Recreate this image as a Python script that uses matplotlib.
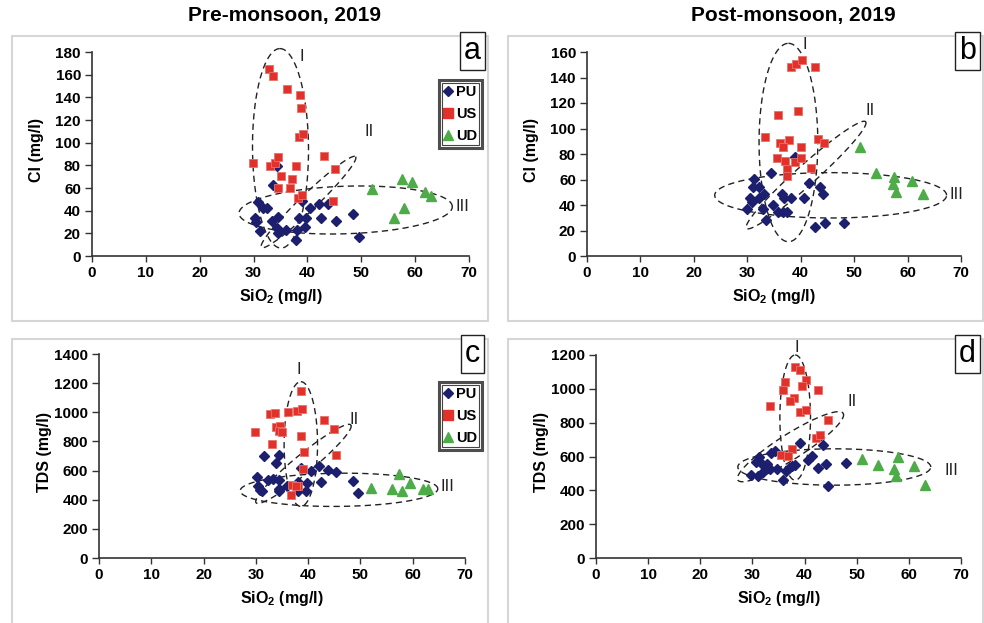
import numpy as np
import matplotlib
matplotlib.use('Agg')
import matplotlib.pyplot as plt
from matplotlib.lines import Line2D
from matplotlib.patches import Rectangle

plt.rcParams['font.family'] = ['Liberation Sans', 'DejaVu Sans']
plt.rcParams['font.weight'] = 'bold'
plt.rcParams['mathtext.fontset'] = 'custom'
plt.rcParams['mathtext.bf'] = 'Liberation Sans:bold'
plt.rcParams['mathtext.rm'] = 'Liberation Sans'

# ---- Cl vs SiO2, pre-monsoon (a)
a_pu_x = [34.4, 33.7, 30.9, 31.7, 32.5, 30.2, 30.4, 33.4, 34.5, 31.2, 34.3, 34.6, 36.1,
          37.9, 38.1, 38.4, 38.9, 39.7, 39.5, 40.5, 42.1, 42.5, 43.8, 45.3, 48.5, 49.6]
a_pu_y = [79.4, 62.4, 47.9, 42.6, 42.4, 33.8, 30.3, 31.2, 34.1, 22.4, 25.0, 20.0, 22.6,
          14.1, 22.9, 33.8, 48.5, 33.8, 25.3, 42.6, 45.6, 33.8, 45.6, 31.2, 36.8, 16.8]
a_us_x = [32.8, 33.6, 36.2, 38.6, 38.8, 38.5, 39.1, 29.9, 33.1, 33.9, 34.6, 35.1, 37.1,
          37.9, 34.5, 36.8, 38.3, 39.0, 43.0, 45.2, 44.8]
a_us_y = [164.7, 159.1, 147.6, 142.0, 130.6, 105.3, 107.6, 82.4, 79.7, 82.4, 87.6, 70.9, 68.2,
          79.4, 59.7, 59.7, 50.9, 53.8, 87.9, 76.8, 48.2]
a_ud_x = [52.0, 57.5, 59.5, 61.9, 62.9, 58.0, 56.0]
a_ud_y = [58.8, 67.6, 65.0, 56.2, 53.2, 42.1, 33.2]

# ---- Cl vs SiO2, post-monsoon (b)
b_pu_x = [39.0, 34.5, 31.2, 31.1, 32.1, 41.5, 43.6, 33.2, 36.5, 36.9, 38.1, 44.2, 30.5,
          30.8, 32.1, 40.7, 29.9, 32.9, 34.9, 35.7, 36.7, 37.5, 33.5, 42.6, 44.5, 48.1]
b_pu_y = [77.4, 65.4, 60.1, 54.4, 54.4, 57.0, 54.4, 48.4, 48.6, 45.8, 45.8, 48.4, 45.8,
          42.6, 45.2, 45.8, 36.9, 36.9, 40.0, 34.2, 34.2, 34.2, 28.2, 23.0, 25.6, 25.6]
b_us_x = [38.1, 39.2, 40.3, 42.6, 35.8, 39.5, 33.3, 36.2, 37.9, 36.7, 40.0, 43.3, 44.3,
          35.6, 37.0, 38.9, 40.0, 37.4, 37.5, 42.0]
b_us_y = [148.0, 150.6, 153.7, 148.0, 110.6, 113.7, 93.6, 88.4, 91.0, 85.2, 85.8, 91.5, 88.4,
          76.9, 74.2, 74.0, 76.9, 68.0, 62.7, 68.8]
b_ud_x = [51.1, 54.0, 57.5, 57.2, 57.9, 60.9, 62.9]
b_ud_y = [85.2, 64.8, 62.2, 56.5, 50.5, 59.1, 48.4]

# ---- TDS vs SiO2, pre-monsoon (c)
c_pu_x = [31.5, 34.4, 33.8, 38.7, 42.1, 40.5, 43.8, 45.3, 30.3, 32.4, 33.3, 34.4, 38.1,
          39.7, 42.4, 48.5, 30.4, 30.8, 31.2, 34.5, 34.5, 36.0, 38.1, 39.5, 49.6]
c_pu_y = [701, 706, 651, 621, 633, 594, 601, 589, 555, 537, 541, 537, 525,
          518, 521, 530, 491, 468, 457, 475, 457, 496, 457, 457, 445]
c_us_x = [38.6, 32.7, 33.6, 36.2, 37.9, 38.9, 43.0, 44.9, 33.8, 34.6, 34.5, 35.0, 29.8,
          38.6, 33.1, 39.2, 45.3, 39.1, 37.0, 38.1, 36.8, 37.6]
c_us_y = [1149, 989, 993, 1000, 1012, 1021, 948, 888, 902, 907, 875, 868, 868,
          840, 781, 726, 708, 610, 498, 496, 434, 495]
c_ud_x = [52.0, 57.4, 59.5, 56.1, 58.0, 62.0, 63.0]
c_ud_y = [477, 576, 514, 473, 461, 473, 473]

# ---- TDS vs SiO2, post-monsoon (d)
d_pu_x = [39.1, 43.6, 33.6, 34.4, 31.2, 41.5, 40.7, 30.6, 31.9, 32.7, 32.7, 33.3, 34.8,
          37.0, 37.5, 38.1, 36.5, 42.6, 44.2, 48.0, 29.8, 31.0, 32.0, 35.8, 44.5]
d_pu_y = [681, 669, 620, 630, 597, 603, 577, 568, 554, 558, 534, 528, 528,
          534, 542, 552, 513, 532, 554, 562, 489, 485, 509, 464, 425]
d_us_x = [38.1, 39.2, 36.3, 40.2, 39.5, 35.8, 42.6, 37.9, 37.2, 33.3, 39.1, 40.2, 44.4,
          42.1, 43.0, 37.5, 35.4, 36.8]
d_us_y = [1129, 1113, 1043, 1051, 1018, 994, 992, 945, 926, 900, 865, 877, 816,
          710, 726, 642, 607, 603]
d_ud_x = [51.1, 54.1, 57.9, 57.1, 57.5, 60.9, 63.1]
d_ud_y = [583, 552, 597, 528, 483, 544, 430]

# group outlines: centre, two conjugate half-axes (data units)
a_rings = [((35.0, 95.0), (-0.1, 88.0), (5.2, 0.0)),
           ((40.2, 47.6), (8.74, 40.0), (1.05, -5.3)),
           ((47.1, 40.6), (19.8, 2.9), (0.0, 21.0))]
b_rings = [((37.7, 89.0), (0.0, 77.8), (5.5, 0.0)),
           ((41.0, 63.5), (11.15, 41.8), (1.25, -5.9)),
           ((45.6, 47.6), (21.7, 0.0), (0.0, 17.8))]
c_rings = [((38.6, 782.0), (0.0, 428.0), (3.2, 0.0)),
           ((39.1, 646.0), (9.06, 267.0), (1.14, -49.3)),
           ((45.9, 468.0), (18.9, 6.8), (0.0, 114.0))]
d_rings = [((38.2, 830.0), (0.0, 370.0), (2.94, 0.0)),
           ((37.3, 658.0), (10.1, 197.6), (1.31, -62.6)),
           ((45.7, 538.0), (18.5, 0.0), (0.0, 107.6))]

ring_names = ['I', 'II', 'III']
a_name_xy = [(39.0, 176), (51.5, 110), (68.8, 44)]
b_name_xy = [(40.7, 166), (52.9, 114.5), (69.1, 48)]
c_name_xy = [(38.3, 1295), (48.8, 952), (66.6, 491)]
d_name_xy = [(38.6, 1246), (49.2, 924), (68.2, 519)]

PU_C = '#1b1f6e'
US_C = '#e0312b'
UD_C = '#4dab48'

fig = plt.figure(figsize=(9.84, 6.23), dpi=100)
W, H = 984.0, 623.0


def px_box(l, t, r, b):
    return [l / W, 1 - b / H, (r - l) / W, (b - t) / H]


# light grey panel frames
for l, t, r, b in [(12, 36, 488, 321), (508, 36, 983, 321),
                   (12, 339, 488, 640), (508, 339, 983, 640)]:
    fig.patches.append(Rectangle((l / W, 1 - b / H), (r - l) / W, (b - t) / H,
                                 transform=fig.transFigure, fill=False,
                                 ec='#d6d6d6', lw=1.5, zorder=0))

panels = [
    dict(box=(92, 52, 469, 256), ymax=180, ystep=20, ylab='Cl (mg/l)', letter='a',
         pu=(a_pu_x, a_pu_y), us=(a_us_x, a_us_y), ud=(a_ud_x, a_ud_y),
         rings=a_rings, names=a_name_xy, frame=(12, 36, 488), legend=True),
    dict(box=(587, 52, 961, 256), ymax=160, ystep=20, ylab='Cl (mg/l)', letter='b',
         pu=(b_pu_x, b_pu_y), us=(b_us_x, b_us_y), ud=(b_ud_x, b_ud_y),
         rings=b_rings, names=b_name_xy, frame=(508, 36, 983), legend=False),
    dict(box=(99, 354, 465, 558), ymax=1400, ystep=200, ylab='TDS (mg/l)', letter='c',
         pu=(c_pu_x, c_pu_y), us=(c_us_x, c_us_y), ud=(c_ud_x, c_ud_y),
         rings=c_rings, names=c_name_xy, frame=(12, 339, 488), legend=True),
    dict(box=(596, 355, 961, 558), ymax=1200, ystep=200, ylab='TDS (mg/l)', letter='d',
         pu=(d_pu_x, d_pu_y), us=(d_us_x, d_us_y), ud=(d_ud_x, d_ud_y),
         rings=d_rings, names=d_name_xy, frame=(508, 339, 983), legend=False),
]

t = np.linspace(0, 2 * np.pi, 300)

for p in panels:
    l, tp, r, b = p['box']
    ax = fig.add_axes(px_box(l, tp, r, b))
    ax.set_xlim(0, 70)
    ax.set_ylim(0, p['ymax'])
    ax.set_xticks(range(0, 71, 10))
    ax.set_yticks(range(0, p['ymax'] + 1, p['ystep']))
    for s in ['top', 'right']:
        ax.spines[s].set_visible(False)
    for s in ['left', 'bottom']:
        ax.spines[s].set_color('#333333')
        ax.spines[s].set_linewidth(1.2)
    ax.tick_params(axis='both', direction='out', color='#333333', width=1.0,
                   labelsize=11, pad=3)
    ax.tick_params(axis='y', length=5)
    ax.tick_params(axis='x', length=4)
    for lab in ax.get_xticklabels() + ax.get_yticklabels():
        lab.set_fontweight('bold')
    ax.patch.set_alpha(0)

    ax.set_xlabel(r'SiO$_\mathbf{2}$ (mg/l)', fontsize=11.5, fontweight='bold', labelpad=5)
    ax.set_ylabel(p['ylab'], fontsize=11.5, fontweight='bold')
    ax.yaxis.set_label_coords(-0.128, 0.52)

    for (cx, cy), (ux, uy), (vx, vy) in p['rings']:
        ex = cx + ux * np.cos(t) + vx * np.sin(t)
        ey = cy + uy * np.cos(t) + vy * np.sin(t)
        ax.plot(ex, ey, color='#222222', lw=1.0, ls=(0, (4.5, 3)), clip_on=False, zorder=3)
    for name, (nx, ny) in zip(ring_names, p['names']):
        ax.text(nx, ny, name, fontsize=12, fontweight='normal', ha='center', va='center',
                color='#222222', clip_on=False)

    ax.plot(*p['pu'], ls='none', marker='D', ms=5.3, color=PU_C, mec=PU_C, zorder=4)
    ax.plot(*p['us'], ls='none', marker='s', ms=6, color=US_C, mec='#e8706b', mew=0.6, zorder=4)
    ax.plot(*p['ud'], ls='none', marker='^', ms=7, color=UD_C, mec=UD_C, zorder=4)

    # panel letter box in the frame corner
    fl, ft, fr = p['frame']
    fig.text((fr - 15.5) / W, 1 - (ft + 15) / H, p['letter'], fontsize=22,
             fontweight='normal', ha='center', va='center',
             bbox=dict(boxstyle='square,pad=0.12', fc='white', ec='#222222', lw=1.0))

    if p['legend']:
        handles = [Line2D([], [], ls='none', marker='D', ms=5, color=PU_C),
                   Line2D([], [], ls='none', marker='s', ms=7, color=US_C),
                   Line2D([], [], ls='none', marker='^', ms=7, color=UD_C)]
        lg = fig.legend(handles, ['PU', 'US', 'UD'], loc='upper left',
                        bbox_to_anchor=(439 / W, 1 - (tp + 28) / H),
                        prop=dict(size=10.5, weight='bold'), handlelength=0.6,
                        handletextpad=0.2, labelspacing=0.55, borderpad=0.35,
                        borderaxespad=0, frameon=True, fancybox=False)
        fr_ = lg.get_frame()
        fr_.set_edgecolor('#222222')
        fr_.set_linewidth(2.2)
        fig.canvas.draw()
        bb = lg.get_window_extent().transformed(fig.transFigure.inverted())
        fig.patches.append(Rectangle((bb.x0 + 3 / W, bb.y0 + 3 / H), bb.width - 6 / W,
                                     bb.height - 6 / H, transform=fig.transFigure,
                                     fill=False, ec='#444444', lw=0.8, zorder=10))

fig.text(285 / W, 1 - 16 / H, 'Pre-monsoon, 2019', fontsize=15, fontweight='bold',
         ha='center', va='center')
fig.text(793 / W, 1 - 16 / H, 'Post-monsoon, 2019', fontsize=15, fontweight='bold',
         ha='center', va='center')

fig.savefig('out.png', dpi=100)
